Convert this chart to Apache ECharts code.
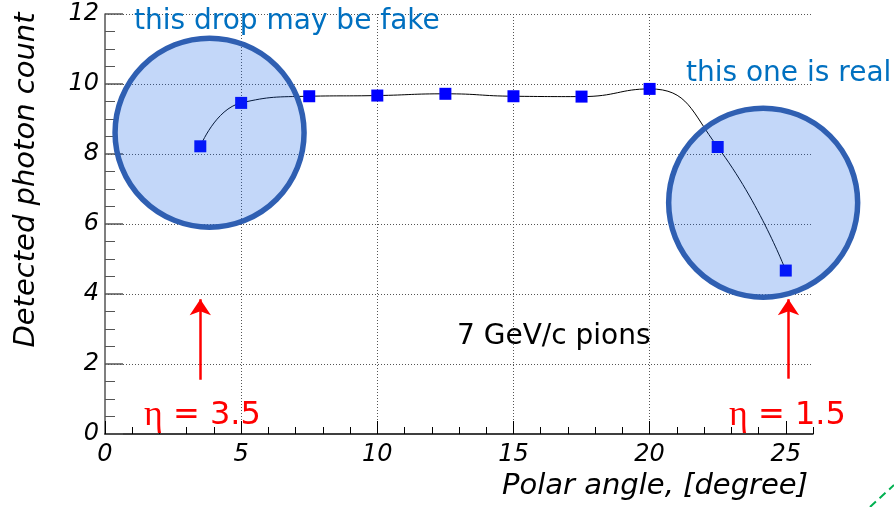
<!DOCTYPE html>
<html>
<head>
<meta charset="utf-8">
<script src="https://cdn.jsdelivr.net/npm/echarts@6/dist/echarts.min.js"></script>
<style>
html,body{margin:0;padding:0;background:#fff;}
#chart{width:894px;height:507px;}
</style>
</head>
<body>
<div id="chart"></div>
<script>
// ---- data ----
const angles = [3.5, 5, 7.5, 10, 12.5, 15, 17.5, 20, 22.5, 25];
const counts = [8.22, 9.46, 9.65, 9.67, 9.72, 9.65, 9.64, 9.86, 8.2, 4.67];
const xTickValues = [0, 5, 10, 15, 20, 25];
const circleCenters = [[3.84, 8.61], [24.17, 6.61]];
const arrowX = [3.5, 25.1];
const arrowFrom = [1.55, 1.58];
const arrowTo = [3.85, 3.85];
const xTitle = 'Polar angle, [degree]';
const yTitle = 'Detected photon count';

const chart = echarts.init(document.getElementById('chart'), null, {renderer: 'canvas'});

const tickFont = {fontFamily: 'DejaVu Sans', fontStyle: 'italic', fontSize: 24, color: '#000'};
const titleFont = {fontFamily: 'DejaVu Sans', fontStyle: 'italic', fontSize: 29, color: '#000'};

const option = {
  animation: false,
  backgroundColor: '#fff',
  grid: {left: 105, right: 81, top: 14, bottom: 73, containLabel: false, outerBoundsMode: 'none'},
  xAxis: [
    {
      type: 'value', min: 0, max: 26, interval: 5, position: 'bottom',
      name: xTitle, nameLocation: 'middle', nameGap: 29,
      nameTextStyle: Object.assign({}, titleFont, {padding: [0, 0, 0, 392]}),
      axisLine: {onZero: false, lineStyle: {color: '#000', width: 1.5}},
      axisTick: {inside: true, length: 13, customValues: xTickValues, lineStyle: {color: '#000', width: 1}},
      axisLabel: Object.assign({}, tickFont, {margin: 9, customValues: xTickValues}),
      splitLine: {show: true, showMinLine: false, showMaxLine: false, lineStyle: {type: [1, 2], color: '#555', width: 1}}
    },
    {
      type: 'value', min: 0, max: 26, interval: 1, position: 'bottom',
      axisLine: {show: false},
      axisTick: {inside: true, length: 7, lineStyle: {color: '#000', width: 1}},
      axisLabel: {show: false},
      splitLine: {show: false}
    }
  ],
  yAxis: {
    type: 'value', min: 0, max: 12, interval: 2,
    name: yTitle, nameLocation: 'middle', nameGap: 64,
    nameTextStyle: Object.assign({}, titleFont, {padding: [0, 0, 0, 88]}),
    axisLine: {show: true, onZero: false, lineStyle: {color: '#555', width: 1.5}},
    axisTick: {show: true, inside: true, length: 18, lineStyle: {color: '#555', width: 1.5}},
    minorTick: {show: true, splitNumber: 4, length: 10, lineStyle: {color: '#555', width: 1}},
    axisLabel: Object.assign({}, tickFont, {margin: 6}),
    splitLine: {show: true, showMinLine: false, showMaxLine: true, lineStyle: {type: [1, 2], color: '#555', width: 1}}
  },
  series: [
    {
      type: 'line',
      xAxisIndex: 0,
      data: angles.map((a, i) => [a, counts[i]]),
      smooth: 0.5,
      symbol: 'rect',
      symbolSize: 12,
      itemStyle: {color: '#0000ff'},
      lineStyle: {color: '#000', width: 1},
      z: 3,
      silent: true,
      markLine: {
        silent: true,
        symbol: ['none', 'arrow'],
        symbolSize: [16, 16],
        label: {show: false},
        lineStyle: {color: '#ff0000', width: 2.5, type: 'solid'},
        emphasis: {disabled: true},
        data: arrowX.map((x, i) => [{coord: [x, arrowFrom[i]]}, {coord: [x, arrowTo[i]]}])
      }
    },
    {
      type: 'scatter',
      xAxisIndex: 0,
      data: circleCenters,
      symbol: 'circle',
      symbolSize: 189,
      itemStyle: {color: 'rgba(15,95,231,0.25)', borderColor: '#2f5fb2', borderWidth: 5.5, opacity: 1},
      z: 5,
      silent: true
    }
  ],
  graphic: [
    {type: 'text', x: 134, y: 22, z: 10, silent: true,
     style: {text: 'this drop may be fake', fill: '#0070c0', font: '28px "DejaVu Sans"', textAlign: 'left', verticalAlign: 'middle'}},
    {type: 'text', x: 686, y: 73.5, z: 10, silent: true,
     style: {text: 'this one is real', fill: '#0070c0', font: '28px "DejaVu Sans"', textAlign: 'left', verticalAlign: 'middle'}},
    {type: 'text', x: 457, y: 336.5, z: 10, silent: true,
     style: {text: '7 GeV/c pions', fill: '#000', font: '28px "DejaVu Sans"', textAlign: 'left', verticalAlign: 'middle'}},
    {type: 'text', x: 144, y: 416, z: 10, silent: true,
     style: {text: '{e|η} = 3.5', fill: '#ff0000', font: '32px "DejaVu Sans"', textAlign: 'left', verticalAlign: 'middle',
             rich: {e: {fontFamily: 'Liberation Serif', fontSize: 36, fill: '#ff0000'}}}},
    {type: 'text', x: 729, y: 416, z: 10, silent: true,
     style: {text: '{e|η} = 1.5', fill: '#ff0000', font: '32px "DejaVu Sans"', textAlign: 'left', verticalAlign: 'middle',
             rich: {e: {fontFamily: 'Liberation Serif', fontSize: 36, fill: '#ff0000'}}}},
    {type: 'line', z: 10, silent: true,
     shape: {x1: 870, y1: 507, x2: 894, y2: 485},
     style: {stroke: '#00b050', lineWidth: 2, lineDash: [8, 5]}}
  ]
};
chart.setOption(option);
</script>
</body>
</html>
